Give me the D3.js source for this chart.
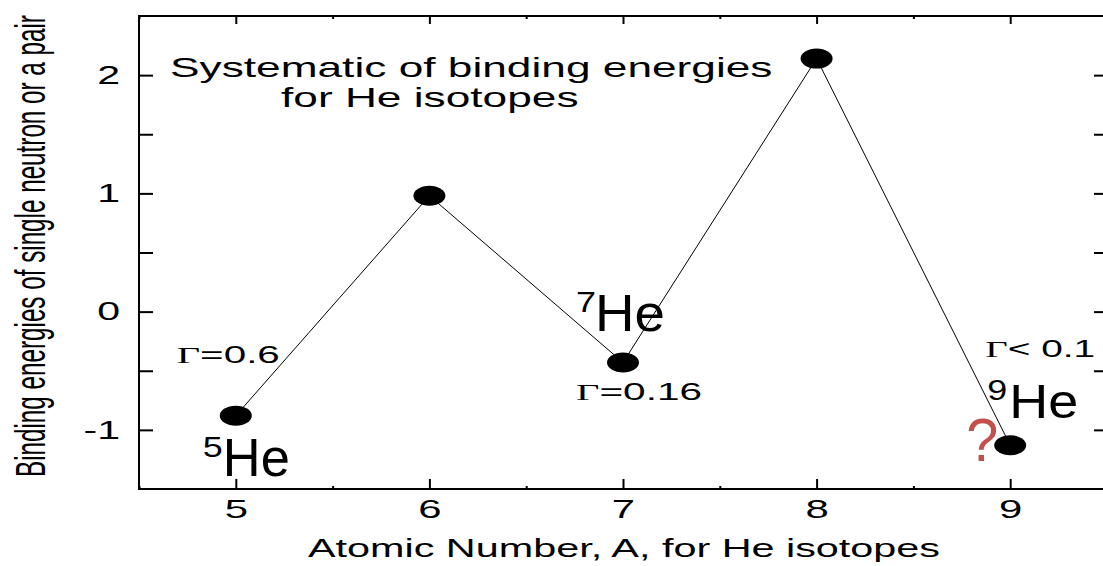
<!DOCTYPE html>
<html>
<head>
<meta charset="utf-8">
<script src="https://cdn.jsdelivr.net/npm/d3@7"></script>
<style>
  html, body { margin: 0; padding: 0; background: #fff; }
  svg { display: block; }
  text { font-family: "Liberation Sans", Arial, sans-serif; fill: #000; }
</style>
</head>
<body>
<script>
// Mass number of each He isotope and the binding energy (MeV) of its last neutron / pair
const massNumbers = [5, 6, 7, 8, 9];
const bindingEnergies = [-0.88, 0.98, -0.43, 2.14, -1.13];

// Axis ticks and labels
const xTicks = [5, 6, 7, 8, 9];
const xMinorTicks = [4.5, 5.5, 6.5, 7.5, 8.5, 9.5];
const yTicks = [-1, -0.5, 0, 0.5, 1, 1.5, 2];
const yLabelled = [-1, 0, 1, 2];

// Text
const titleLines = ["Systematic of binding energies", "for He isotopes"];
const xTitle = "Atomic Number, A, for He isotopes";
const yTitle = "Binding energies of single neutron or a pair";

// Resonance widths quoted next to the unbound isotopes
const widthIsotopes = [5, 7, 9];
const widthRelations = ["=", "=", "< "];
const widthValues = ["0.6", "0.16", "0.1"];

// Isotope names written beside the points
const namedIsotopes = [5, 7, 9];

const W = 1103, H = 566;
const svg = d3.select("body").append("svg").attr("width", W).attr("height", H);

const x = d3.scaleLinear().domain([4.5, 9.5]).range([139, 1107]);
const y = d3.scaleLinear().domain([-1.5, 2.5]).range([489, 16]);

const STRETCH = 1.58;
const fitText = function () {
  const w = this.getComputedTextLength();
  d3.select(this).attr("textLength", w * STRETCH).attr("lengthAdjust", "spacingAndGlyphs");
};

// Frame
svg.append("rect")
  .attr("x", x.range()[0]).attr("y", y.range()[1])
  .attr("width", x.range()[1] - x.range()[0])
  .attr("height", y.range()[0] - y.range()[1])
  .attr("fill", "none").attr("stroke", "#000").attr("stroke-width", 2);

function styleAxis(g) {
  g.select(".domain").remove();
  g.selectAll(".tick line").attr("stroke", "#000").attr("stroke-width", 2);
}

// Bottom axis
const gx = svg.append("g").attr("transform", `translate(0,${y.range()[0]})`)
  .call(d3.axisBottom(x).tickValues(xTicks).tickSize(-10).tickPadding(10).tickFormat(d => String(d)))
  .call(styleAxis);
gx.selectAll(".tick text")
  .style("font-family", "Liberation Sans, Arial, sans-serif")
  .attr("font-size", 26.5).attr("fill", "#000")
  .each(fitText);
svg.append("g").attr("transform", `translate(0,${y.range()[0]})`)
  .call(d3.axisBottom(x).tickValues(xMinorTicks).tickSize(-3).tickFormat(""))
  .call(styleAxis);

// Top axis
svg.append("g").attr("transform", `translate(0,${y.range()[1]})`)
  .call(d3.axisTop(x).tickValues(xTicks).tickSize(-8).tickFormat(""))
  .call(styleAxis);
svg.append("g").attr("transform", `translate(0,${y.range()[1]})`)
  .call(d3.axisTop(x).tickValues(xMinorTicks).tickSize(-3).tickFormat(""))
  .call(styleAxis);

// Left axis
const gy = svg.append("g").attr("transform", `translate(${x.range()[0]},0)`)
  .call(d3.axisLeft(y).tickValues(yTicks).tickSize(-14).tickPadding(19)
    .tickFormat(d => yLabelled.includes(d) ? String(d) : ""))
  .call(styleAxis);
gy.selectAll(".tick text")
  .style("font-family", "Liberation Sans, Arial, sans-serif")
  .attr("font-size", 26).attr("fill", "#000")
  .each(fitText);

// Right axis
svg.append("g").attr("transform", `translate(${x.range()[1]},0)`)
  .call(d3.axisRight(y).tickValues(yTicks).tickSize(-13).tickFormat(""))
  .call(styleAxis);

// Titles
svg.append("g").selectAll("text").data(titleLines).join("text")
  .attr("x", (d, i) => i === 0 ? 170 : 281)
  .attr("y", (d, i) => i === 0 ? 77 : 107)
  .attr("font-size", 28)
  .text(d => d)
  .each(fitText);

svg.append("text")
  .attr("x", 308).attr("y", 557)
  .attr("font-size", 26.5)
  .text(xTitle)
  .attr("textLength", 632).attr("lengthAdjust", "spacingAndGlyphs");

// Vertical title: a narrow, tall face made by sizing the run to its length
// and widening the glyphs across the baseline
const yTitleLen = 462;
const yTitleCap = 30;
const yt = svg.append("text").attr("font-size", 20).text(yTitle);
const yFont = 20 * yTitleLen / yt.node().getComputedTextLength();
const yScale = yTitleCap / (0.716 * yFont);
yt.attr("font-size", yFont)
  .attr("transform", `translate(45,477) scale(${yScale},1) rotate(-90)`);

// Data
const points = massNumbers.map((a, i) => ({ a, e: bindingEnergies[i] }));

svg.append("path")
  .datum(points)
  .attr("fill", "none").attr("stroke", "#000").attr("stroke-width", 1)
  .attr("d", d3.line().x(d => x(d.a)).y(d => y(d.e)));

svg.append("g").selectAll("ellipse").data(points).join("ellipse")
  .attr("cx", d => x(d.a)).attr("cy", d => y(d.e))
  .attr("rx", 16).attr("ry", 10)
  .attr("fill", "#000");

const energyOf = a => bindingEnergies[massNumbers.indexOf(a)];

// Resonance width labels: serif Gamma followed by the value
const widthOffsets = { 5: [-59, -53, 103], 7: [-47, 38, 126], 9: [-25, -88, 110] };
widthIsotopes.forEach((a, i) => {
  const [dx, dy, len] = widthOffsets[a];
  const t = svg.append("text")
    .attr("x", x(a) + dx).attr("y", y(energyOf(a)) + dy)
    .attr("font-size", 24);
  t.append("tspan").style("font-family", "Liberation Serif, Times New Roman, serif").text("\u0393");
  t.append("tspan").text(widthRelations[i] + widthValues[i]);
  t.attr("textLength", len).attr("lengthAdjust", "spacingAndGlyphs");
});

// Isotope names with the mass number as a superscript
const nameLayout = {
  5: { sx: -33, sy: 41, he: { dx: -13, dy: 60, size: 53, len: 67 } },
  7: { sx: -47, sy: -50, he: { dx: -28, dy: -31, size: 52, len: 70 } },
  9: { sx: -23, sy: -45, he: { dx: -1, dy: -27, size: 49, len: 69 } }
};
namedIsotopes.forEach(a => {
  const L = nameLayout[a];
  const cx = x(a), cy = y(energyOf(a));
  svg.append("text")
    .attr("x", cx + L.sx).attr("y", cy + L.sy)
    .attr("font-size", 29)
    .text(String(a))
    .attr("textLength", 20).attr("lengthAdjust", "spacingAndGlyphs");
  svg.append("text")
    .attr("x", cx + L.he.dx).attr("y", cy + L.he.dy)
    .attr("font-size", L.he.size)
    .text("He")
    .attr("textLength", L.he.len).attr("lengthAdjust", "spacingAndGlyphs");
});

// Open question on the 9He ground state
svg.append("text")
  .attr("x", x(9) - 44).attr("y", y(energyOf(9)) + 16)
  .attr("font-size", 62)
  .attr("fill", "#c4504d").style("fill", "#c4504d")
  .text("?")
  .attr("textLength", 32).attr("lengthAdjust", "spacingAndGlyphs");
</script>
</body>
</html>
